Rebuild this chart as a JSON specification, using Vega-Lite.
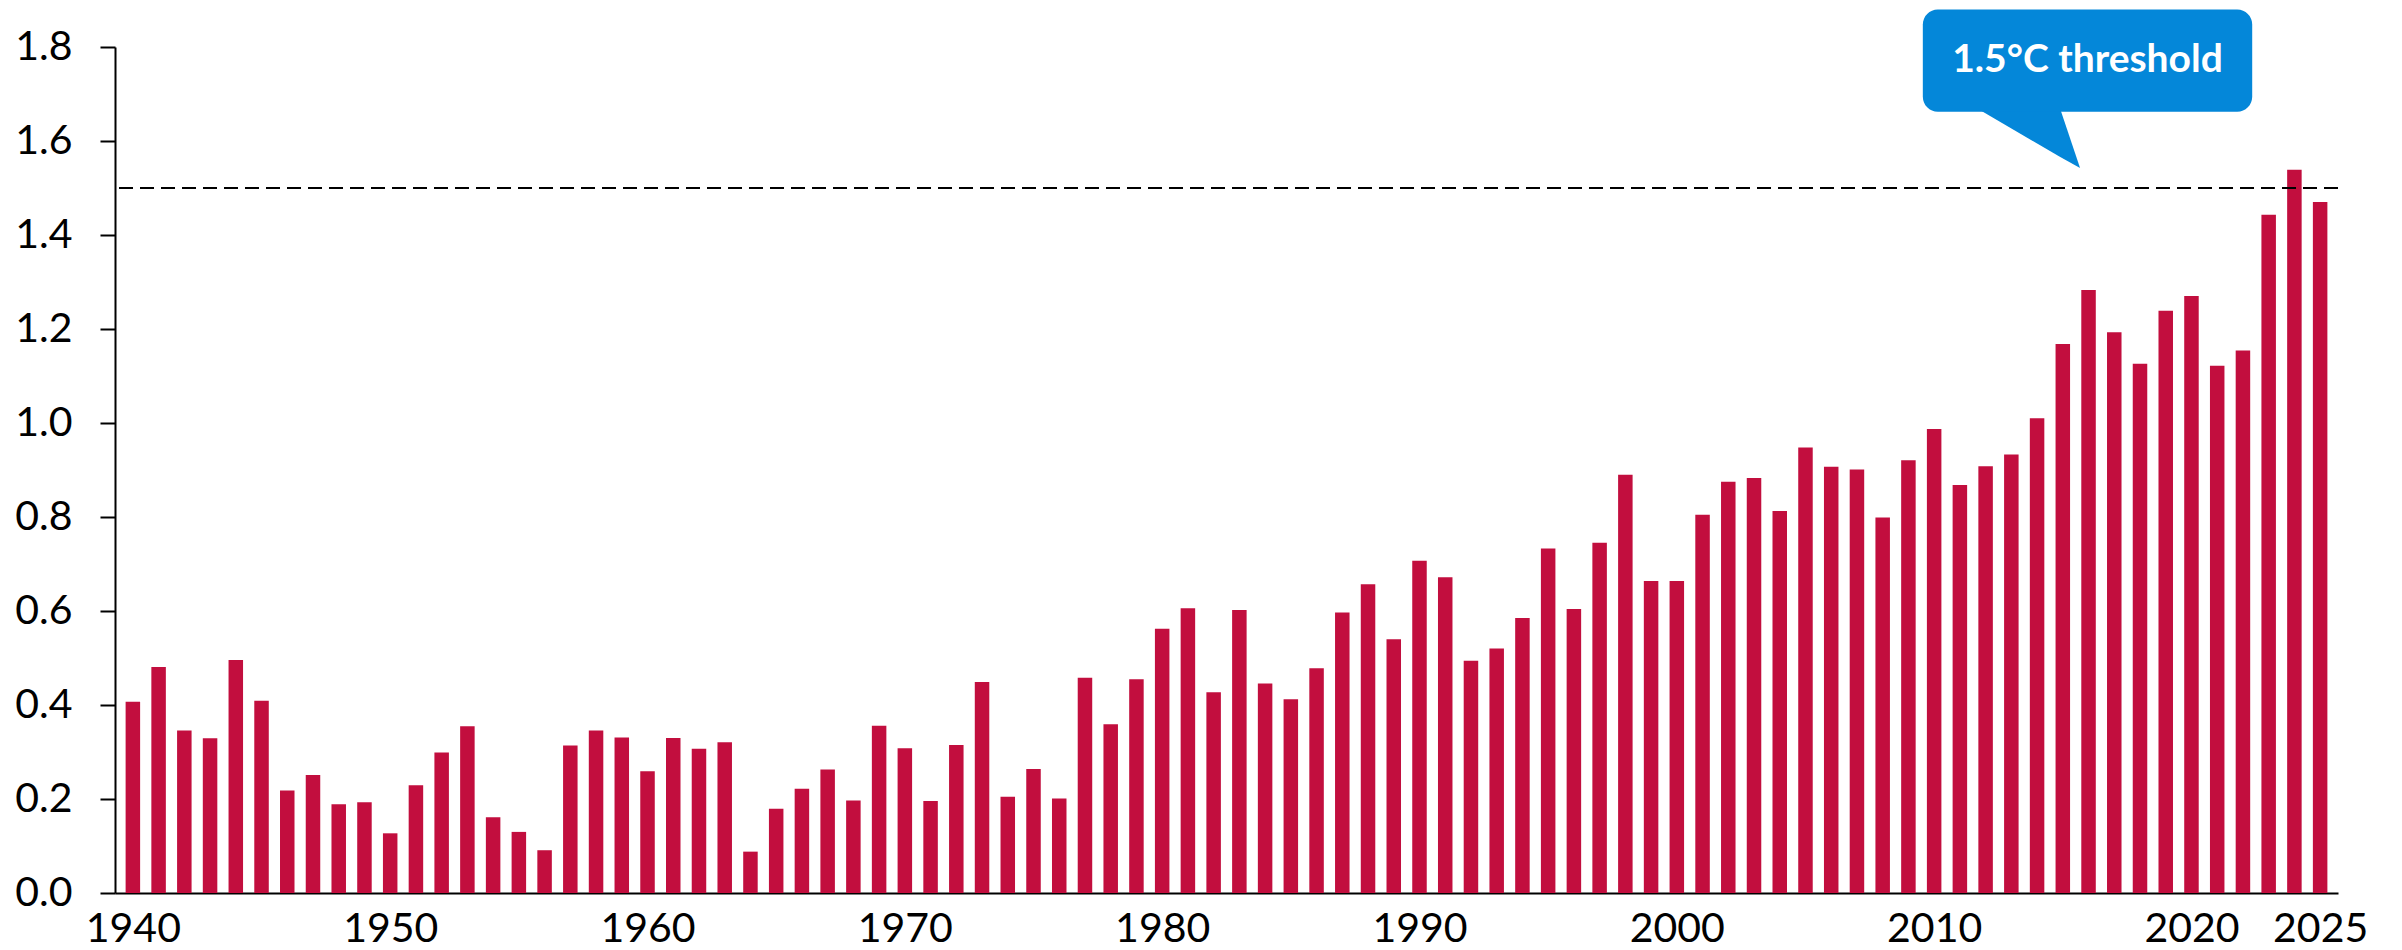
{
  "$schema": "https://vega.github.io/schema/vega-lite/v6.json",
  "width": 2223,
  "height": 846,
  "autosize": {"type": "none"},
  "padding": {"left": 115, "top": 47, "right": 64, "bottom": 57},
  "background": "white",
  "config": {
    "view": {"stroke": null},
    "font": "Lato",
    "axis": {"labelFont": "Lato", "labelColor": "#000000", "grid": false}
  },
  "datasets": {
    "temps": [
      {"year": 1940, "anomaly": 0.407}, {"year": 1941, "anomaly": 0.481}, {"year": 1942, "anomaly": 0.346},
      {"year": 1943, "anomaly": 0.329}, {"year": 1944, "anomaly": 0.496}, {"year": 1945, "anomaly": 0.409},
      {"year": 1946, "anomaly": 0.218}, {"year": 1947, "anomaly": 0.251}, {"year": 1948, "anomaly": 0.189},
      {"year": 1949, "anomaly": 0.193}, {"year": 1950, "anomaly": 0.127}, {"year": 1951, "anomaly": 0.229},
      {"year": 1952, "anomaly": 0.299}, {"year": 1953, "anomaly": 0.355}, {"year": 1954, "anomaly": 0.161},
      {"year": 1955, "anomaly": 0.130}, {"year": 1956, "anomaly": 0.091}, {"year": 1957, "anomaly": 0.314},
      {"year": 1958, "anomaly": 0.346}, {"year": 1959, "anomaly": 0.331}, {"year": 1960, "anomaly": 0.259},
      {"year": 1961, "anomaly": 0.330}, {"year": 1962, "anomaly": 0.307}, {"year": 1963, "anomaly": 0.321},
      {"year": 1964, "anomaly": 0.088}, {"year": 1965, "anomaly": 0.179}, {"year": 1966, "anomaly": 0.222},
      {"year": 1967, "anomaly": 0.263}, {"year": 1968, "anomaly": 0.197}, {"year": 1969, "anomaly": 0.356},
      {"year": 1970, "anomaly": 0.308}, {"year": 1971, "anomaly": 0.196}, {"year": 1972, "anomaly": 0.315},
      {"year": 1973, "anomaly": 0.449}, {"year": 1974, "anomaly": 0.205}, {"year": 1975, "anomaly": 0.264},
      {"year": 1976, "anomaly": 0.201}, {"year": 1977, "anomaly": 0.458}, {"year": 1978, "anomaly": 0.359},
      {"year": 1979, "anomaly": 0.455}, {"year": 1980, "anomaly": 0.562}, {"year": 1981, "anomaly": 0.606},
      {"year": 1982, "anomaly": 0.427}, {"year": 1983, "anomaly": 0.602}, {"year": 1984, "anomaly": 0.446},
      {"year": 1985, "anomaly": 0.412}, {"year": 1986, "anomaly": 0.478}, {"year": 1987, "anomaly": 0.597},
      {"year": 1988, "anomaly": 0.657}, {"year": 1989, "anomaly": 0.540}, {"year": 1990, "anomaly": 0.707},
      {"year": 1991, "anomaly": 0.672}, {"year": 1992, "anomaly": 0.494}, {"year": 1993, "anomaly": 0.520},
      {"year": 1994, "anomaly": 0.585}, {"year": 1995, "anomaly": 0.733}, {"year": 1996, "anomaly": 0.604},
      {"year": 1997, "anomaly": 0.745}, {"year": 1998, "anomaly": 0.890}, {"year": 1999, "anomaly": 0.664},
      {"year": 2000, "anomaly": 0.664}, {"year": 2001, "anomaly": 0.805}, {"year": 2002, "anomaly": 0.875},
      {"year": 2003, "anomaly": 0.883}, {"year": 2004, "anomaly": 0.813}, {"year": 2005, "anomaly": 0.948},
      {"year": 2006, "anomaly": 0.907}, {"year": 2007, "anomaly": 0.901}, {"year": 2008, "anomaly": 0.799},
      {"year": 2009, "anomaly": 0.921}, {"year": 2010, "anomaly": 0.987}, {"year": 2011, "anomaly": 0.868},
      {"year": 2012, "anomaly": 0.908}, {"year": 2013, "anomaly": 0.933}, {"year": 2014, "anomaly": 1.010},
      {"year": 2015, "anomaly": 1.168}, {"year": 2016, "anomaly": 1.283}, {"year": 2017, "anomaly": 1.193},
      {"year": 2018, "anomaly": 1.126}, {"year": 2019, "anomaly": 1.239}, {"year": 2020, "anomaly": 1.270},
      {"year": 2021, "anomaly": 1.122}, {"year": 2022, "anomaly": 1.154}, {"year": 2023, "anomaly": 1.443},
      {"year": 2024, "anomaly": 1.539}, {"year": 2025, "anomaly": 1.470}
    ],
    "pointer": [
      {"year": 2011.71, "top": 1.668, "bottom": 1.668},
      {"year": 2014.90, "top": 1.668, "bottom": 1.5659},
      {"year": 2015.67, "top": 1.5426, "bottom": 1.5426}
    ],
    "callout": [
      {"x1": 2009.56, "x2": 2022.36, "y1": 1.880, "y2": 1.6623, "xc": 2015.96, "yc": 1.7717, "label": "1.5°C threshold"}
    ],
    "threshold": [{"value": 1.5}]
  },
  "layer": [
    {
      "data": {"name": "temps"},
      "mark": {"type": "bar", "color": "#C20E3E", "size": 14.5},
      "encoding": {
        "x": {
          "field": "year",
          "type": "quantitative",
          "scale": {"domain": [1939.5, 2025.5], "nice": false, "zero": false},
          "axis": {
            "title": null,
            "values": [1940, 1950, 1960, 1970, 1980, 1990, 2000, 2010, 2020, 2025],
            "format": "d",
            "ticks": false,
            "labelFontSize": 41,
            "labelPadding": 16,
            "labelFlush": false,
            "labelOverlap": false,
            "domainColor": "#000000",
            "domainWidth": 2
          }
        },
        "y": {
          "field": "anomaly",
          "type": "quantitative",
          "scale": {"domain": [0, 1.8], "nice": false},
          "axis": {
            "title": null,
            "values": [0, 0.2, 0.4, 0.6, 0.8, 1.0, 1.2, 1.4, 1.6, 1.8],
            "format": ".1f",
            "tickSize": 15,
            "tickWidth": 2,
            "tickColor": "#000000",
            "labelFontSize": 41,
            "labelPadding": 28,
            "domainColor": "#000000",
            "domainWidth": 2
          }
        }
      }
    },
    {
      "data": {"name": "threshold"},
      "mark": {"type": "rule", "color": "#000000", "strokeWidth": 2, "strokeDash": [14, 7]},
      "encoding": {"y": {"field": "value", "type": "quantitative"}}
    },
    {
      "data": {"name": "pointer"},
      "mark": {"type": "area", "color": "#0487D9", "orient": "vertical", "interpolate": "linear"},
      "encoding": {
        "x": {"field": "year", "type": "quantitative"},
        "y": {"field": "top", "type": "quantitative"},
        "y2": {"field": "bottom"}
      }
    },
    {
      "data": {"name": "callout"},
      "mark": {"type": "rect", "color": "#0487D9", "cornerRadius": 15},
      "encoding": {
        "x": {"field": "x1", "type": "quantitative"},
        "x2": {"field": "x2"},
        "y": {"field": "y1", "type": "quantitative"},
        "y2": {"field": "y2"}
      }
    },
    {
      "data": {"name": "callout"},
      "mark": {"type": "text", "color": "#FFFFFF", "font": "Lato", "fontWeight": "bold", "fontSize": 39, "align": "center", "baseline": "middle"},
      "encoding": {
        "x": {"field": "xc", "type": "quantitative"},
        "y": {"field": "yc", "type": "quantitative"},
        "text": {"field": "label"}
      }
    }
  ]
}
